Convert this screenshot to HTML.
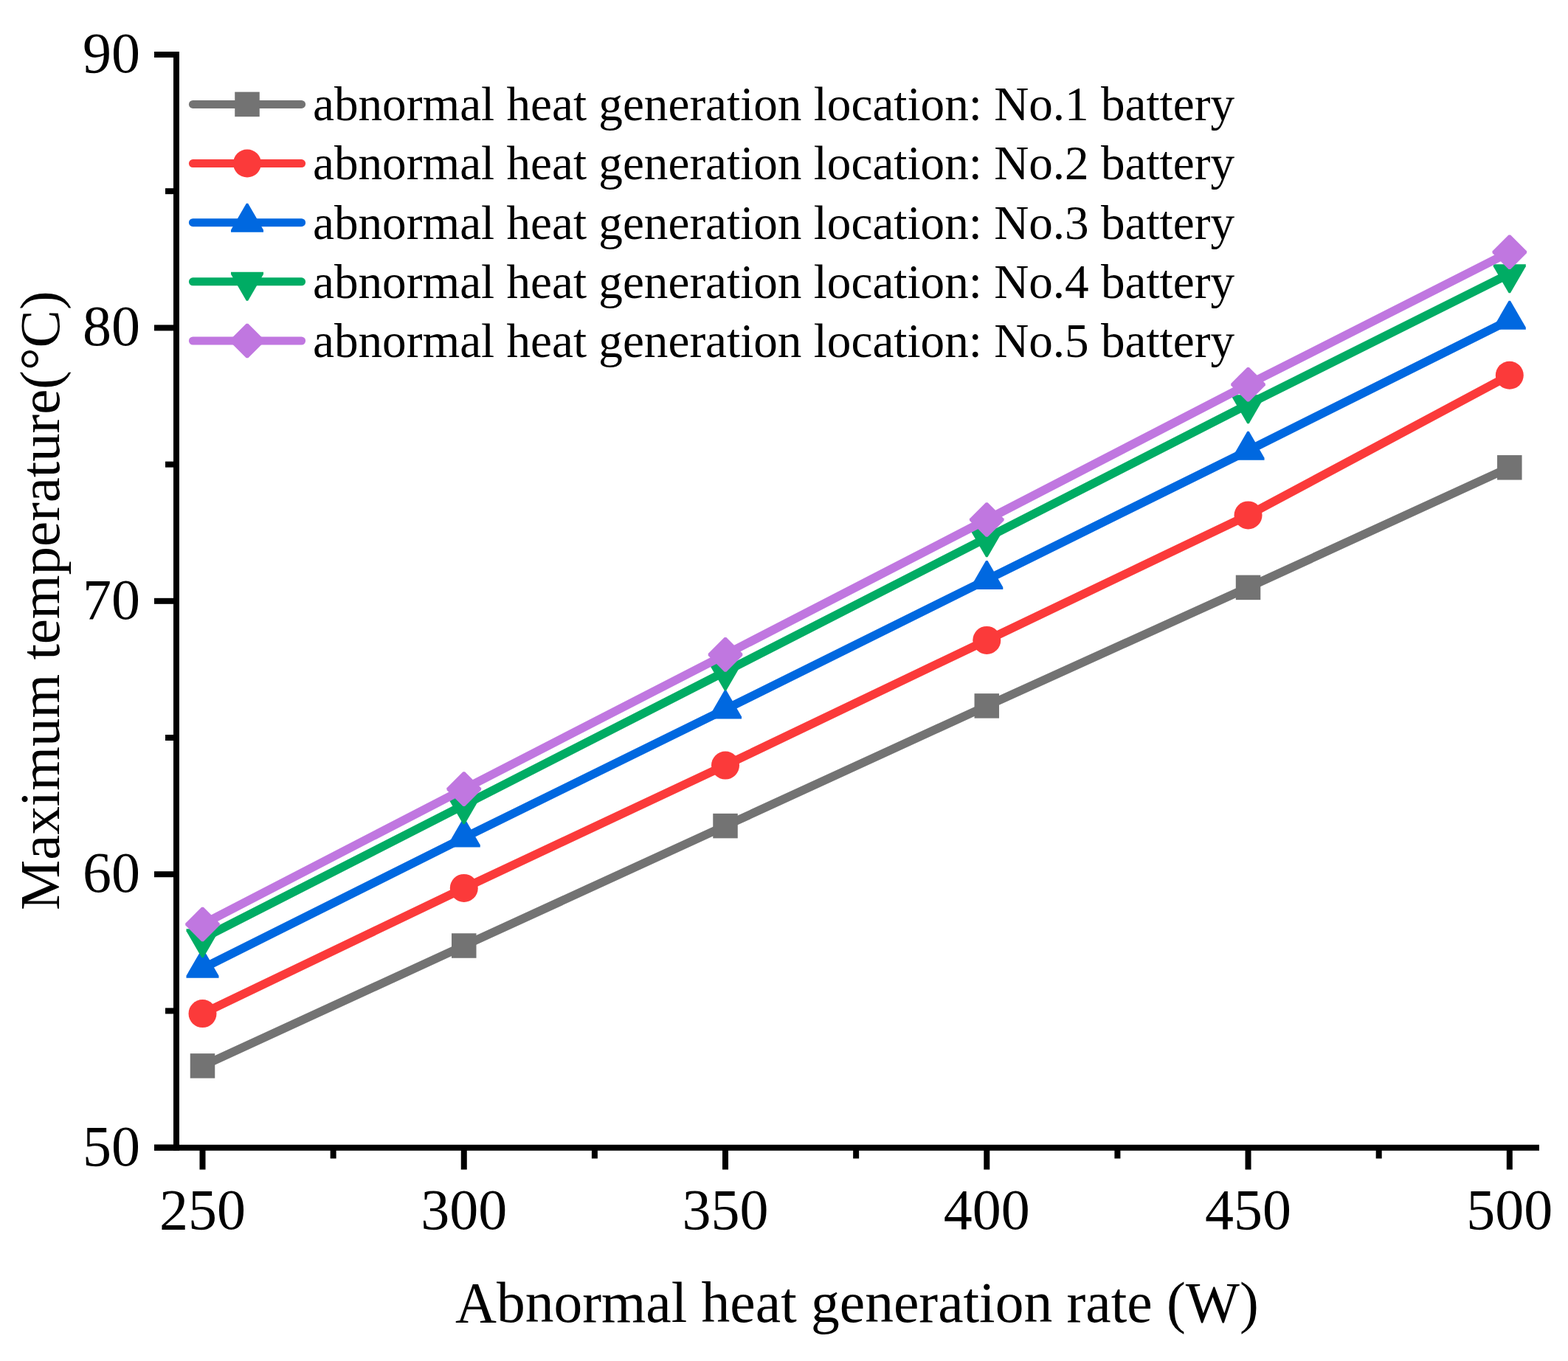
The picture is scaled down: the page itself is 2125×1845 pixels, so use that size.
<!DOCTYPE html>
<html><head><meta charset="utf-8"><title>Maximum temperature vs abnormal heat generation rate</title>
<style>html,body{margin:0;padding:0;background:#fff;} svg{display:block;}</style>
</head><body>
<svg width="2125" height="1845" viewBox="0 0 2125 1845" font-family="'Liberation Serif', 'Times New Roman', serif" fill="#000">
<rect width="2125" height="1845" fill="#fff"/>
<line x1="261.4" y1="141.40" x2="408.6" y2="141.40" stroke="#737373" stroke-width="11.0" stroke-linecap="round"/>
<rect x="318.25" y="124.65" width="33.5" height="33.5" fill="#737373"/>
<text x="424" y="162.90" font-size="65.2">abnormal heat generation location: No.1 battery</text>
<line x1="261.4" y1="221.55" x2="408.6" y2="221.55" stroke="#FB3A3A" stroke-width="11.0" stroke-linecap="round"/>
<circle cx="335.00" cy="221.55" r="19" fill="#FB3A3A"/>
<text x="424" y="243.20" font-size="65.2">abnormal heat generation location: No.2 battery</text>
<line x1="261.4" y1="301.70" x2="408.6" y2="301.70" stroke="#0068E0" stroke-width="11.0" stroke-linecap="round"/>
<polygon points="333.84,275.70 336.16,275.70 357.01,311.70 357.01,314.70 312.99,314.70 312.99,311.70" fill="#0068E0"/>
<text x="424" y="323.50" font-size="65.2">abnormal heat generation location: No.3 battery</text>
<line x1="261.4" y1="381.85" x2="408.6" y2="381.85" stroke="#00AC64" stroke-width="11.0" stroke-linecap="round"/>
<polygon points="333.84,407.85 336.16,407.85 357.01,371.85 357.01,368.85 312.99,368.85 312.99,371.85" fill="#00AC64"/>
<text x="424" y="403.80" font-size="65.2">abnormal heat generation location: No.4 battery</text>
<line x1="261.4" y1="462.00" x2="408.6" y2="462.00" stroke="#C077E0" stroke-width="11.0" stroke-linecap="round"/>
<polygon points="333.70,438.70 336.30,438.70 358.30,460.70 358.30,463.30 336.30,485.30 333.70,485.30 311.70,463.30 311.70,460.70" fill="#C077E0"/>
<text x="424" y="484.10" font-size="65.2">abnormal heat generation location: No.5 battery</text>
<polyline points="274.50,1444.90 628.76,1282.00 983.02,1119.60 1337.28,956.90 1691.54,796.40 2045.80,633.80" fill="none" stroke="#737373" stroke-width="11.6" stroke-linejoin="round"/>
<rect x="257.75" y="1428.15" width="33.5" height="33.5" fill="#737373"/>
<rect x="612.01" y="1265.25" width="33.5" height="33.5" fill="#737373"/>
<rect x="966.27" y="1102.85" width="33.5" height="33.5" fill="#737373"/>
<rect x="1320.53" y="940.15" width="33.5" height="33.5" fill="#737373"/>
<rect x="1674.79" y="779.65" width="33.5" height="33.5" fill="#737373"/>
<rect x="2029.05" y="617.05" width="33.5" height="33.5" fill="#737373"/>
<polyline points="274.50,1374.10 628.76,1203.90 983.02,1037.60 1337.28,867.90 1691.54,698.40 2045.80,508.80" fill="none" stroke="#FB3A3A" stroke-width="11.6" stroke-linejoin="round"/>
<circle cx="274.50" cy="1374.10" r="19" fill="#FB3A3A"/>
<circle cx="628.76" cy="1203.90" r="19" fill="#FB3A3A"/>
<circle cx="983.02" cy="1037.60" r="19" fill="#FB3A3A"/>
<circle cx="1337.28" cy="867.90" r="19" fill="#FB3A3A"/>
<circle cx="1691.54" cy="698.40" r="19" fill="#FB3A3A"/>
<circle cx="2045.80" cy="508.80" r="19" fill="#FB3A3A"/>
<polyline points="274.50,1312.70 628.76,1135.60 983.02,961.50 1337.28,785.90 1691.54,610.70 2045.80,433.80" fill="none" stroke="#0068E0" stroke-width="11.6" stroke-linejoin="round"/>
<polygon points="273.34,1286.70 275.66,1286.70 296.51,1322.70 296.51,1325.70 252.49,1325.70 252.49,1322.70" fill="#0068E0"/>
<polygon points="627.60,1109.60 629.92,1109.60 650.77,1145.60 650.77,1148.60 606.75,1148.60 606.75,1145.60" fill="#0068E0"/>
<polygon points="981.86,935.50 984.18,935.50 1005.03,971.50 1005.03,974.50 961.01,974.50 961.01,971.50" fill="#0068E0"/>
<polygon points="1336.12,759.90 1338.44,759.90 1359.29,795.90 1359.29,798.90 1315.27,798.90 1315.27,795.90" fill="#0068E0"/>
<polygon points="1690.38,584.70 1692.70,584.70 1713.55,620.70 1713.55,623.70 1669.53,623.70 1669.53,620.70" fill="#0068E0"/>
<polygon points="2044.64,407.80 2046.96,407.80 2067.81,443.80 2067.81,446.80 2023.79,446.80 2023.79,443.80" fill="#0068E0"/>
<polyline points="274.50,1272.20 628.76,1091.30 983.02,910.30 1337.28,729.20 1691.54,548.20 2045.80,371.20" fill="none" stroke="#00AC64" stroke-width="11.6" stroke-linejoin="round"/>
<polygon points="273.34,1298.20 275.66,1298.20 296.51,1262.20 296.51,1259.20 252.49,1259.20 252.49,1262.20" fill="#00AC64"/>
<polygon points="627.60,1117.30 629.92,1117.30 650.77,1081.30 650.77,1078.30 606.75,1078.30 606.75,1081.30" fill="#00AC64"/>
<polygon points="981.86,936.30 984.18,936.30 1005.03,900.30 1005.03,897.30 961.01,897.30 961.01,900.30" fill="#00AC64"/>
<polygon points="1336.12,755.20 1338.44,755.20 1359.29,719.20 1359.29,716.20 1315.27,716.20 1315.27,719.20" fill="#00AC64"/>
<polygon points="1690.38,574.20 1692.70,574.20 1713.55,538.20 1713.55,535.20 1669.53,535.20 1669.53,538.20" fill="#00AC64"/>
<polygon points="2044.64,397.20 2046.96,397.20 2067.81,361.20 2067.81,358.20 2023.79,358.20 2023.79,361.20" fill="#00AC64"/>
<polyline points="274.50,1253.00 628.76,1069.60 983.02,887.40 1337.28,704.50 1691.54,521.20 2045.80,341.80" fill="none" stroke="#C077E0" stroke-width="11.6" stroke-linejoin="round"/>
<polygon points="273.20,1229.70 275.80,1229.70 297.80,1251.70 297.80,1254.30 275.80,1276.30 273.20,1276.30 251.20,1254.30 251.20,1251.70" fill="#C077E0"/>
<polygon points="627.46,1046.30 630.06,1046.30 652.06,1068.30 652.06,1070.90 630.06,1092.90 627.46,1092.90 605.46,1070.90 605.46,1068.30" fill="#C077E0"/>
<polygon points="981.72,864.10 984.32,864.10 1006.32,886.10 1006.32,888.70 984.32,910.70 981.72,910.70 959.72,888.70 959.72,886.10" fill="#C077E0"/>
<polygon points="1335.98,681.20 1338.58,681.20 1360.58,703.20 1360.58,705.80 1338.58,727.80 1335.98,727.80 1313.98,705.80 1313.98,703.20" fill="#C077E0"/>
<polygon points="1690.24,497.90 1692.84,497.90 1714.84,519.90 1714.84,522.50 1692.84,544.50 1690.24,544.50 1668.24,522.50 1668.24,519.90" fill="#C077E0"/>
<polygon points="2044.50,318.50 2047.10,318.50 2069.10,340.50 2069.10,343.10 2047.10,365.10 2044.50,365.10 2022.50,343.10 2022.50,340.50" fill="#C077E0"/>
<rect x="235.0" y="70" width="8" height="1489.80" fill="#000"/>
<rect x="209" y="1551.80" width="1877" height="8" fill="#000"/>
<rect x="209" y="1551.60" width="30.00" height="8" fill="#000"/>
<rect x="209" y="1181.20" width="30.00" height="8" fill="#000"/>
<rect x="209" y="810.80" width="30.00" height="8" fill="#000"/>
<rect x="209" y="440.40" width="30.00" height="8" fill="#000"/>
<rect x="209" y="70.00" width="30.00" height="8" fill="#000"/>
<rect x="224" y="1366.40" width="15.00" height="8" fill="#000"/>
<rect x="224" y="996.00" width="15.00" height="8" fill="#000"/>
<rect x="224" y="625.60" width="15.00" height="8" fill="#000"/>
<rect x="224" y="255.20" width="15.00" height="8" fill="#000"/>
<rect x="270.50" y="1555.80" width="8" height="29.70" fill="#000"/>
<rect x="624.76" y="1555.80" width="8" height="29.70" fill="#000"/>
<rect x="979.02" y="1555.80" width="8" height="29.70" fill="#000"/>
<rect x="1333.28" y="1555.80" width="8" height="29.70" fill="#000"/>
<rect x="1687.54" y="1555.80" width="8" height="29.70" fill="#000"/>
<rect x="2041.80" y="1555.80" width="8" height="29.70" fill="#000"/>
<rect x="447.63" y="1555.80" width="8" height="14.70" fill="#000"/>
<rect x="801.89" y="1555.80" width="8" height="14.70" fill="#000"/>
<rect x="1156.15" y="1555.80" width="8" height="14.70" fill="#000"/>
<rect x="1510.41" y="1555.80" width="8" height="14.70" fill="#000"/>
<rect x="1864.67" y="1555.80" width="8" height="14.70" fill="#000"/>
<text x="190" y="1579.60" text-anchor="end" font-size="78">50</text>
<text x="190" y="1209.20" text-anchor="end" font-size="78">60</text>
<text x="190" y="838.80" text-anchor="end" font-size="78">70</text>
<text x="190" y="468.40" text-anchor="end" font-size="78">80</text>
<text x="190" y="98.00" text-anchor="end" font-size="78">90</text>
<text x="274.50" y="1666" text-anchor="middle" font-size="78">250</text>
<text x="628.76" y="1666" text-anchor="middle" font-size="78">300</text>
<text x="983.02" y="1666" text-anchor="middle" font-size="78">350</text>
<text x="1337.28" y="1666" text-anchor="middle" font-size="78">400</text>
<text x="1691.54" y="1666" text-anchor="middle" font-size="78">450</text>
<text x="2045.80" y="1666" text-anchor="middle" font-size="78">500</text>
<text x="617" y="1792" font-size="77.5">Abnormal heat generation rate (W)</text>
<text transform="translate(80,1234) rotate(-90)" x="0" y="0" font-size="76.85">Maximum temperature(°C)</text>
</svg>
</body></html>
